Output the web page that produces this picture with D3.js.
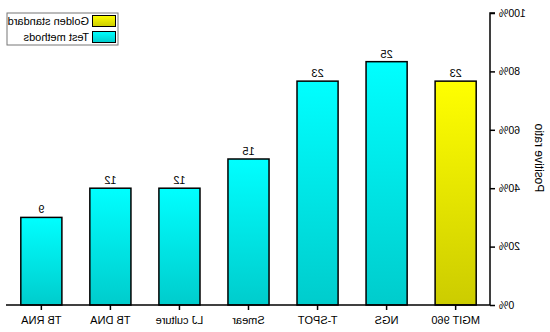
<!DOCTYPE html>
<html><head><meta charset="utf-8">
<script src="https://cdn.jsdelivr.net/npm/d3@7"></script>
<style>body{margin:0;background:#fff}svg{display:block}text{font-family:"Liberation Sans",Arial,sans-serif;fill:#000}</style>
</head><body>
<svg id="c" width="550" height="332"></svg>
<script>
const categories = ["MGIT 960","NGS","T-SPOT","Smear","LJ culture","TB DNA","TB RNA"];
const counts = [23,25,23,15,12,12,9];
const total = 30;
const groups = ["gold","test","test","test","test","test","test"];
const yTicks = [0,0.2,0.4,0.6,0.8,1.0];
const legendLabels = ["Golden standard","Test methods"];

const svg = d3.select("#c");
const defs = svg.append("defs");
function grad(id, top, bottom){
  const g = defs.append("linearGradient").attr("id",id).attr("x1",0).attr("y1",0).attr("x2",0).attr("y2",1);
  g.append("stop").attr("offset","0%").attr("stop-color",top);
  g.append("stop").attr("offset","100%").attr("stop-color",bottom);
}
grad("gGold","#ffff00","#cccc00");
grad("gTest","#00ffff","#00cccc");
const fills = {gold:"url(#gGold)", test:"url(#gTest)"};

// whole chart is mirrored horizontally, like the reference
const root = svg.append("g").attr("transform","translate(550,0) scale(-1,1)");

const x = d3.scaleBand().domain(categories).range([60,543]).paddingInner(0.405).paddingOuter(0.2);
const y = d3.scaleLinear().domain([0,1]).range([305,13]);

// bars
root.selectAll("rect.bar").data(categories).join("rect")
  .attr("class","bar")
  .attr("x",d=>x(d)).attr("width",x.bandwidth())
  .attr("y",(d,i)=>y(counts[i]/total))
  .attr("height",(d,i)=>y(0)-y(counts[i]/total))
  .attr("fill",(d,i)=>fills[groups[i]])
  .attr("stroke","#000").attr("stroke-width",1.5);

// value labels
root.selectAll("text.val").data(categories).join("text")
  .attr("class","val")
  .attr("x",d=>x(d)+x.bandwidth()/2)
  .attr("y",(d,i)=>y(counts[i]/total)-4)
  .attr("text-anchor","middle").attr("font-size",11)
  .text((d,i)=>counts[i]);

// y axis
const ya = root.append("g").attr("transform","translate(60,0)")
  .call(d3.axisLeft(y).tickValues(yTicks).tickFormat(d3.format(".0%")).tickSize(5).tickPadding(4));
ya.select(".domain").attr("stroke","#000").attr("stroke-width",1.5).attr("d","M-5,13H0V305");
ya.selectAll(".tick line").attr("stroke-width",1.5);
ya.selectAll(".tick text").attr("font-size",10.5).attr("font-family","Liberation Sans, Arial, sans-serif");

// x axis
const xa = root.append("g").attr("transform","translate(0,305)")
  .call(d3.axisBottom(x).tickSize(5).tickPadding(6));
xa.select(".domain").attr("stroke","#000").attr("stroke-width",1.5).attr("d","M60,0H544");
xa.selectAll(".tick line").attr("stroke-width",1.5);
xa.selectAll(".tick text").attr("font-size",11).attr("font-family","Liberation Sans, Arial, sans-serif");

// y title
root.append("text").attr("transform","translate(15,158) rotate(-90)")
  .attr("text-anchor","middle").attr("font-size",12).text("Positive ratio");

// legend
const lg = root.append("g");
lg.append("rect").attr("x",432).attr("y",13).attr("width",111).attr("height",32)
  .attr("fill","#fff").attr("stroke","#777").attr("stroke-width",1);
const keys = ["gold","test"];
keys.forEach((k,i)=>{
  lg.append("rect").attr("x",434.5).attr("y",15.5+i*16).attr("width",23).attr("height",11)
    .attr("fill",fills[k]).attr("stroke","#000").attr("stroke-width",1);
  lg.append("text").attr("x",461).attr("y",25+i*16).attr("font-size",11).text(legendLabels[i]);
});
</script>
</body></html>
